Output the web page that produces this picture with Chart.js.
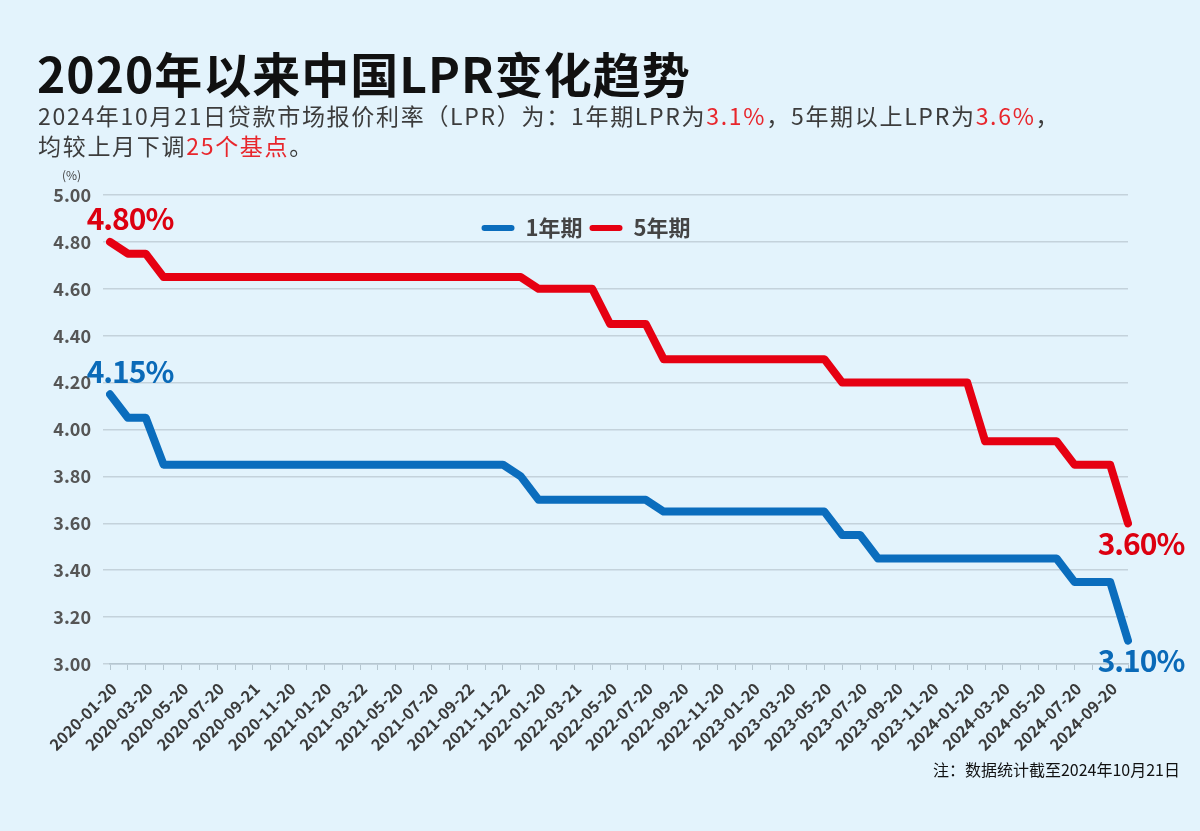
<!DOCTYPE html>
<html>
<head>
<meta charset="utf-8">
<script src="https://cdn.jsdelivr.net/npm/chart.js@4.4.1/dist/chart.umd.min.js"></script>
<style>
html, body { margin: 0; padding: 0; background: #e3f3fc; }
#wrap { position: relative; width: 1200px; height: 831px; overflow: hidden; font-family: "Noto Sans CJK SC", sans-serif; }
#lpr-chart { position: absolute; left: 0; top: 0; }
.title { position: absolute; left: 37px; top: 48px; font-size: 48px; font-weight: 700; color: #111; line-height: 1; letter-spacing: 1px; white-space: nowrap; }
.sub { position: absolute; left: 38px; top: 100px; font-size: 23px; color: #3c3c3c; line-height: 30px; letter-spacing: 1.7px; white-space: nowrap; }
.sub em { font-style: normal; color: #e8262c; }
.unit { position: absolute; left: 62px; top: 166px; font-size: 12px; color: #444; }
.note { position: absolute; right: 20px; top: 757px; font-size: 16px; color: #111; white-space: nowrap; }
</style>
</head>
<body>
<div id="wrap">
  <canvas id="lpr-chart" width="1200" height="831"></canvas>
  <div class="title">2020年以来中国LPR变化趋势</div>
  <div class="sub">2024年10月21日贷款市场报价利率（LPR）为：1年期LPR为<em>3.1%</em>，5年期以上LPR为<em>3.6%</em>，<br>均较上月下调<em>25个基点</em>。</div>
  <div class="unit">(%)</div>
  <div class="note">注：数据统计截至2024年10月21日</div>
</div>
<script>
const labels = [
    '2020-01-20', '2020-02-20', '2020-03-20', '2020-04-20', '2020-05-20', '2020-06-22',
    '2020-07-20', '2020-08-20', '2020-09-21', '2020-10-20', '2020-11-20', '2020-12-21',
    '2021-01-20', '2021-02-20', '2021-03-22', '2021-04-20', '2021-05-20', '2021-06-21',
    '2021-07-20', '2021-08-20', '2021-09-22', '2021-10-20', '2021-11-22', '2021-12-20',
    '2022-01-20', '2022-02-21', '2022-03-21', '2022-04-20', '2022-05-20', '2022-06-20',
    '2022-07-20', '2022-08-22', '2022-09-20', '2022-10-20', '2022-11-20', '2022-12-20',
    '2023-01-20', '2023-02-20', '2023-03-20', '2023-04-20', '2023-05-20', '2023-06-20',
    '2023-07-20', '2023-08-21', '2023-09-20', '2023-10-20', '2023-11-20', '2023-12-20',
    '2024-01-20', '2024-02-20', '2024-03-20', '2024-04-22', '2024-05-20', '2024-06-20',
    '2024-07-20', '2024-08-20', '2024-09-20', '2024-10-21'
];

// 1年期
const lpr1y = [
    4.15, 4.05, 4.05, 3.85, 3.85, 3.85, 3.85, 3.85, 3.85, 3.85, 3.85, 3.85,
    3.85, 3.85, 3.85, 3.85, 3.85, 3.85, 3.85, 3.85, 3.85, 3.85, 3.85, 3.80,
    3.70, 3.70, 3.70, 3.70, 3.70, 3.70, 3.70, 3.65, 3.65, 3.65, 3.65, 3.65,
    3.65, 3.65, 3.65, 3.65, 3.65, 3.55, 3.55, 3.45, 3.45, 3.45, 3.45, 3.45,
    3.45, 3.45, 3.45, 3.45, 3.45, 3.45, 3.35, 3.35, 3.35, 3.10
];

// 5年期
const lpr5y = [
    4.80, 4.75, 4.75, 4.65, 4.65, 4.65, 4.65, 4.65, 4.65, 4.65, 4.65, 4.65,
    4.65, 4.65, 4.65, 4.65, 4.65, 4.65, 4.65, 4.65, 4.65, 4.65, 4.65, 4.65,
    4.60, 4.60, 4.60, 4.60, 4.45, 4.45, 4.45, 4.30, 4.30, 4.30, 4.30, 4.30,
    4.30, 4.30, 4.30, 4.30, 4.30, 4.20, 4.20, 4.20, 4.20, 4.20, 4.20, 4.20,
    4.20, 3.95, 3.95, 3.95, 3.95, 3.95, 3.85, 3.85, 3.85, 3.60
];

const seriesNames = ['1年期', '5年期'];
const yMin = 3, yMax = 5, yStep = 0.2;

const BLUE = '#0b6dbd';
const RED = '#e60012';
const GRID = '#c4d2db';

// first / last value labels (4.80%, 3.10% ...)
const endLabels = {
    id: 'endLabels',
    afterDatasetsDraw(chart) {
        const ctx = chart.ctx;
        ctx.save();
        ctx.font = 'bold 30px "Noto Sans CJK SC"';
        ctx.letterSpacing = '-1px';
        ctx.textAlign = 'center';
        ctx.textBaseline = 'middle';
        chart.data.datasets.forEach((ds, i) => {
            const pts = chart.getDatasetMeta(i).data;
            const first = pts[0], last = pts[pts.length - 1];
            ctx.fillStyle = ds.labelColor;
            ctx.fillText(ds.data[0].toFixed(2) + '%', first.x + 20, first.y - 23);
            ctx.fillText(ds.data[ds.data.length - 1].toFixed(2) + '%', last.x + 13, last.y + 20);
        });
        ctx.restore();
    }
};

// legend sits inside the plot, just under the 5.00 line, and takes no layout space
const legendInPlot = {
    id: 'legendInPlot',
    beforeInit(chart) {
        const lg = chart.legend;
        const fit = lg.fit;
        lg.fit = function () {
            fit.call(this);
            this._fullHeight = this.height;
            this.height = 0;
        };
    },
    afterLayout(chart) {
        const lg = chart.legend;
        lg.top = chart.chartArea.top + 15;
        lg.height = lg._fullHeight;
        lg.bottom = lg.top + lg.height;
        lg.left += 22;
        lg.right += 22;
    }
};

const chart = new Chart(document.getElementById('lpr-chart'), {
    type: 'line',
    data: {
        labels,
        datasets: [{
            label: seriesNames[0],
            data: lpr1y,
            borderColor: BLUE,
            backgroundColor: BLUE,
            labelColor: '#0a6ab8',
            borderWidth: 8,
            borderCapStyle: 'round',
            borderJoinStyle: 'round',
            pointRadius: 0,
            tension: 0
        }, {
            label: seriesNames[1],
            data: lpr5y,
            borderColor: RED,
            backgroundColor: RED,
            labelColor: '#dc0010',
            borderWidth: 8,
            borderCapStyle: 'round',
            borderJoinStyle: 'round',
            pointRadius: 0,
            tension: 0
        }]
    },
    options: {
        responsive: false,
        animation: false,
        layout: {
            padding: { left: 0, top: 195, right: 72, bottom: 57 }
        },
        plugins: {
            tooltip: { enabled: false },
            legend: {
                position: 'top',
                align: 'center',
                labels: {
                    boxWidth: 33,
                    boxHeight: 6,
                    useBorderRadius: true,
                    borderRadius: 3,
                    padding: 7,
                    color: '#444',
                    font: { family: '"Noto Sans CJK SC"', size: 22, weight: 'bold' },
                    generateLabels(c) {
                        return Chart.defaults.plugins.legend.labels.generateLabels(c).map(item => {
                            item.lineWidth = 0;
                            return item;
                        });
                    }
                }
            }
        },
        scales: {
            x: {
                grid: { drawOnChartArea: false, drawTicks: true, tickLength: 6, color: '#b5c6d0', lineWidth: 1 },
                border: { color: '#b5c6d0', width: 1.5 },
                ticks: {
                    autoSkip: false,
                    minRotation: 45,
                    maxRotation: 45,
                    padding: 9,
                    labelOffset: 4,
                    color: '#3a3a3a',
                    font: { family: '"Noto Sans CJK SC"', size: 16, weight: 'bold' },
                    callback(value, index) {
                        return index % 2 === 0 ? this.getLabelForValue(value) : '';
                    }
                },
                afterFit(scale) { scale.height = 110; }
            },
            y: {
                min: yMin,
                max: yMax,
                border: { display: false },
                grid: { color: GRID, lineWidth: 1.5, tickLength: 7 },
                ticks: {
                    stepSize: yStep,
                    padding: 12,
                    color: '#555',
                    font: { family: '"Noto Sans CJK SC"', size: 18, weight: 'bold' },
                    callback: v => v.toFixed(2)
                },
                afterFit(scale) { scale.width = 110; }
            }
        }
    },
    plugins: [endLabels, legendInPlot]
});
</script>
</body>
</html>
